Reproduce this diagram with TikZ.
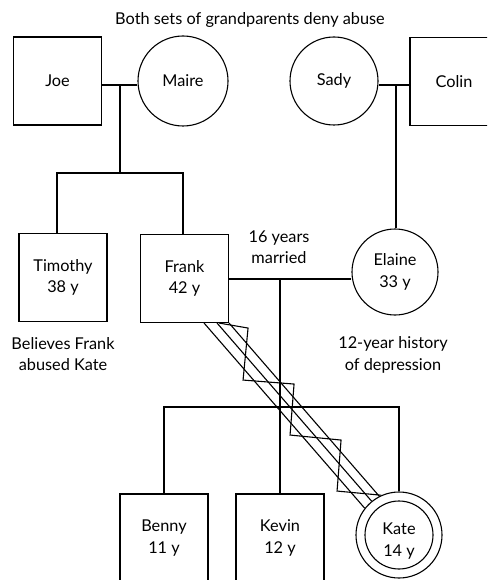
\documentclass[tikz,border=0pt]{standalone}
\usepackage{fontspec}
\setmainfont{Lato}
\begin{document}
\begin{tikzpicture}[x=1pt,y=-1pt,
  every node/.style={font=\fontsize{16.3}{21.5}\selectfont},
  person/.style={draw, line width=1.1pt, inner sep=0pt, align=center},
  male/.style={person, rectangle, minimum width=88pt, minimum height=88pt},
  female/.style={person, circle, minimum size=#1},
  female/.default=88pt,
  link/.style={line width=1.1pt},
  note/.style={align=center, inner sep=0pt}]
\path[use as bounding box] (0,0) rectangle (487,580);
\clip (0,0) rectangle (487,580);

% people
\node[male] (joe) at (57.5,81) {Joe};
\node[female=90pt] (maire) at (183,81) {Maire};
\node[female] (sady) at (334,81) {Sady};
\node[male] (colin) at (454,81.5) {Colin};
\node[male] (tim) at (63,277.5) {Timothy\\38 y};
\node[male] (frank) at (184.5,278.5) {Frank\\42 y};
\node[female=86pt] (elaine) at (395,272) {Elaine\\33 y};
\node[male] (benny) at (164,538) {Benny\\11 y};
\node[male] (kevin) at (280,538) {Kevin\\12 y};
\node[female=86pt] (kate) at (399,535) {};
\draw[link] (kate.center) circle[radius=34pt];
\node[note] (katetxt) at ([yshift=-6pt]kate.center) {Kate\\14 y};

% notes
\node[note, anchor=base] (title) at (250,25) {Both sets of grandparents deny abuse};
\node[note] (married) at (279,247) {16 years\\married};
\node[note] (believes) at (63,354) {Believes Frank\\abused Kate};
\node[note] (depr) at (393,355) {12-year history\\of depression};

% coordinates
\coordinate (jm) at (120,85);
\coordinate (sibL) at (57,173);
\coordinate (sibR) at (183,173);
\coordinate (sc) at (396,85);
\coordinate (fe) at (280,279);
\coordinate (cb) at (280,407);

% connectors
\draw[link] (joe.east |- jm) -- (maire.west |- jm);
\draw[link] (jm) -- (jm |- sibL);
\draw[link] (tim.north -| sibL) -- (sibL) -- (sibR) -- (frank.north -| sibR);
\draw[link] (sady.east |- sc) -- (colin.west |- sc);
\draw[link] (sc) -- (sc |- elaine.north);
\draw[link] (frank.east |- fe) -- (elaine.west |- fe);
\draw[link] (fe) -- (kevin.north);
\draw[link] (benny.north) -- (benny.north |- cb) -- (kate.north |- cb) -- (kate.north);

% abuse symbol
\draw[link] ([xshift=-25pt]frank.south east) -- (kate.142.8);
\draw[link] ([xshift=-12pt]frank.south east) -- (kate.129.8);
\draw[link] (frank.south east) -- (kate.117.7);
\draw[link] ([xshift=-10pt]frank.south east) -- ++(29,5) -- ++(-5,52) -- ++(51,4)
  -- ++(-4,51) -- ++(51,5) -- ++(-4,51) -- (kate.114);
\end{tikzpicture}
\end{document}
